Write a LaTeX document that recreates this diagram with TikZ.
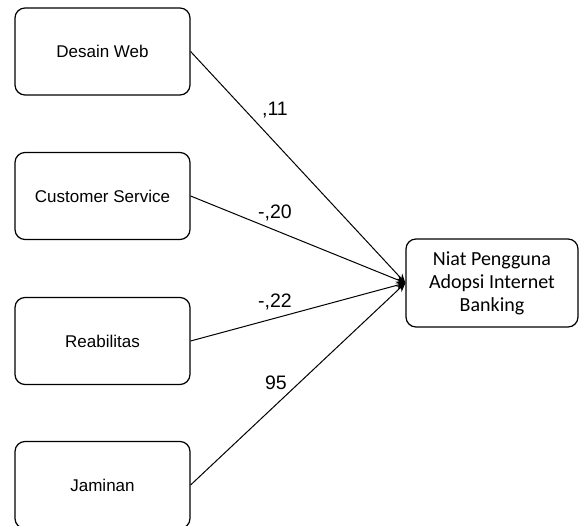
\documentclass[tikz,border=0pt]{standalone}
\usepackage{fontspec}
\setmainfont{Liberation Sans}
\newfontfamily\calibri{Carlito}
\usetikzlibrary{arrows.meta}

\begin{document}
\begin{tikzpicture}[x=1pt,y=-1pt,
    factor/.style={draw,rounded corners=10pt,line width=1.2pt,minimum width=175pt,minimum height=87pt,font=\fontsize{17}{20}\selectfont},
    target/.style={draw,rounded corners=10pt,line width=1.2pt,minimum width=172pt,minimum height=88pt,align=center,font=\calibri\fontsize{20}{23}\selectfont},
    weight/.style={font=\fontsize{19.5}{22}\selectfont},
    path/.style={line width=1pt,-{Stealth[length=9pt,width=8pt]}}]
  \useasboundingbox (0,0) rectangle (579,526);
  \node[factor] (web) at (102.5,51.5) {Desain Web};
  \node[factor] (cs) at (102.5,196) {Customer Service};
  \node[factor] (reab) at (102.5,341) {Reabilitas};
  \node[factor] (jam) at (102.5,485) {Jaminan};
  \node[target] (niat) at (492,283) {Niat Pengguna\\Adopsi Internet\\Banking};
  \draw[path] (web.east) -- (niat.west);
  \draw[path] (cs.east) -- (niat.west);
  \draw[path] (reab.east) -- (niat.west);
  \draw[path] (jam.east) -- (niat.west);
  \node[weight] (w1) at (275,110) {,11};
  \node[weight] (w2) at (275,213) {-,20};
  \node[weight] (w3) at (275,302) {-,22};
  \node[weight] (w4) at (276,383) {95};
\end{tikzpicture}
\end{document}
